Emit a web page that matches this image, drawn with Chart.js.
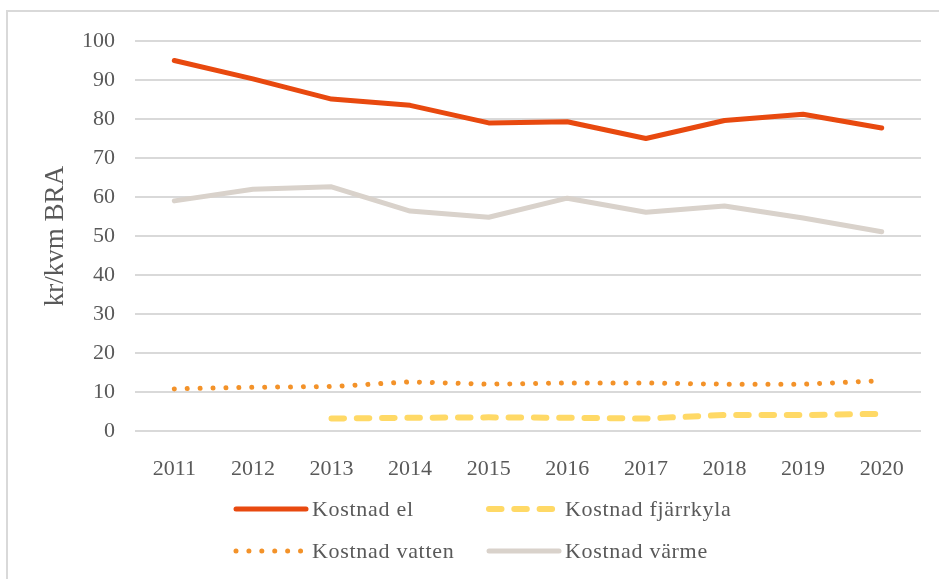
<!DOCTYPE html>
<html>
<head>
<meta charset="utf-8">
<script src="https://cdn.jsdelivr.net/npm/chart.js@4/dist/chart.umd.min.js"></script>
<style>
  html, body { margin: 0; padding: 0; background: #fff; overflow: hidden; }
  #wrap { position: relative; width: 939px; height: 579px; }
  #frame { position: absolute; left: 6px; top: 10px; width: 1000px; height: 1000px; border: 2px solid #d9d9d9; }
  canvas { position: absolute; left: 0; top: 0; }
</style>
</head>
<body>
<div id="wrap">
  <div id="frame"></div>
  <canvas id="chart" width="939" height="579"></canvas>
</div>
<script>
// === Kostnader per kvm BRA, 2011-2020 ===

const years = ['2011', '2012', '2013', '2014', '2015', '2016', '2017', '2018', '2019', '2020'];

const kostnadEl = [95.0, 90.3, 85.1, 83.5, 79.0, 79.3, 75.0, 79.6, 81.2, 77.7];
const kostnadVarme = [59.0, 62.0, 62.6, 56.4, 54.8, 59.7, 56.1, 57.7, 54.6, 51.1];
const kostnadVatten = [10.8, 11.2, 11.4, 12.6, 12.0, 12.3, 12.3, 12.0, 12.0, 12.9];
const kostnadFjarrkyla = [null, null, 3.2, 3.4, 3.5, 3.4, 3.2, 4.1, 4.1, 4.4];

const yTicks = [0, 10, 20, 30, 40, 50, 60, 70, 80, 90, 100];

const TEXT = '#595959';
const GRID = '#d9d9d9';
const FONT = '"Liberation Serif", "Times New Roman", serif';

const COLORS = {
    el: '#e8490f',
    fjarrkyla: '#ffd966',
    vatten: '#f39229',
    varme: '#d9d2cb'
};

// legend in two columns below the plot, order as in the picture
const legendPlugin = {
    id: 'twoColLegend',
    afterDraw(chart) {
        const ctx = chart.ctx;
        const order = [0, 3, 1, 2]; // el, fjarrkyla / vatten, varme
        const cells = [
            { x: 234, y: 509 }, { x: 487, y: 509 },
            { x: 234, y: 551 }, { x: 487, y: 551 }
        ];
        ctx.save();
        order.forEach((di, i) => {
            const ds = chart.data.datasets[di];
            const c = cells[i];
            ctx.beginPath();
            ctx.strokeStyle = ds.borderColor;
            ctx.lineWidth = ds.borderWidth;
            ctx.lineCap = ds.borderCapStyle || 'round';
            ctx.setLineDash(ds.borderDash || []);
            ctx.moveTo(c.x + 2, c.y);
            ctx.lineTo(c.x + 72, c.y);
            ctx.stroke();
            ctx.setLineDash([]);
            ctx.fillStyle = TEXT;
            ctx.font = '22px ' + FONT;
            ctx.letterSpacing = '0.7px';
            ctx.textBaseline = 'middle';
            ctx.textAlign = 'left';
            ctx.fillText(ds.label, c.x + 78, c.y + 1);
        });
        ctx.restore();
    }
};

new Chart(document.getElementById('chart'), {
    type: 'line',
    data: {
        labels: years,
        datasets: [
            {
                label: 'Kostnad el',
                data: kostnadEl,
                borderColor: COLORS.el,
                borderWidth: 5,
                borderCapStyle: 'round',
                order: 1
            },
            {
                label: 'Kostnad vatten',
                data: kostnadVatten,
                borderColor: COLORS.vatten,
                borderWidth: 5,
                borderCapStyle: 'round',
                borderDash: [0.01, 12.9],
                order: 3
            },
            {
                label: 'Kostnad värme',
                data: kostnadVarme,
                borderColor: COLORS.varme,
                borderWidth: 5,
                borderCapStyle: 'round',
                order: 2
            },
            {
                label: 'Kostnad fjärrkyla',
                data: kostnadFjarrkyla,
                borderColor: COLORS.fjarrkyla,
                borderWidth: 6,
                borderCapStyle: 'round',
                borderDash: [12.5, 12.8],
                spanGaps: false,
                order: 4
            }
        ]
    },
    options: {
        responsive: false,
        animation: false,
        events: [],
        elements: {
            point: { radius: 0 },
            line: { tension: 0, borderJoinStyle: 'round' }
        },
        layout: { padding: { left: 0, top: 41, right: 18, bottom: 88 } },
        plugins: {
            legend: { display: false },
            tooltip: { enabled: false }
        },
        scales: {
            x: {
                offset: true,
                grid: { display: false },
                border: { display: false },
                ticks: {
                    color: TEXT,
                    font: { family: FONT, size: 22 },
                    padding: 17,
                    maxRotation: 0
                },
                afterFit(scale) { scale.height = 60; }
            },
            y: {
                min: 0,
                max: 100,
                afterBuildTicks(scale) { scale.ticks = yTicks.map(v => ({ value: v })); },
                grid: { color: GRID, lineWidth: 2, drawTicks: false },
                border: { display: false },
                ticks: {
                    color: TEXT,
                    font: { family: FONT, size: 22 },
                    padding: 20
                },
                title: {
                    display: true,
                    text: 'kr/kvm BRA',
                    color: TEXT,
                    font: { family: FONT, size: 27 },
                    padding: { top: 40 }
                },
                afterFit(scale) { scale.width = 135; }
            }
        }
    },
    plugins: [legendPlugin]
});
</script>
</body>
</html>
